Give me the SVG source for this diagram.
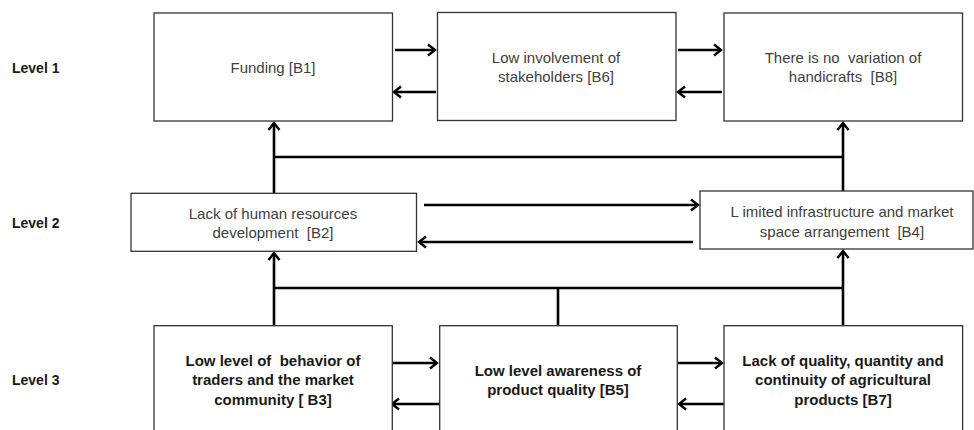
<svg xmlns="http://www.w3.org/2000/svg" width="974" height="430" viewBox="0 0 974 430">
<style>
.box{fill:#fff;stroke:#333;stroke-width:1.3}
.t{font-family:"Liberation Sans",Arial,sans-serif;font-size:15px;fill:#404040;text-anchor:middle}
.tb{font-family:"Liberation Sans",Arial,sans-serif;font-size:15px;font-weight:bold;fill:#1a1a1a;text-anchor:middle}
.lv{font-family:"Liberation Sans",Arial,sans-serif;font-size:14px;font-weight:bold;fill:#1a1a1a}
.c{fill:none;stroke:#000;stroke-width:2.6}
</style>
<defs>
<marker id="ah" markerUnits="userSpaceOnUse" markerWidth="14" markerHeight="14" refX="9" refY="7" orient="auto" viewBox="0 0 14 14">
<path d="M2,1.5 L9,7 L2,12.5" fill="none" stroke="#000" stroke-width="2.4"/>
</marker>
</defs>
<rect width="974" height="430" fill="#fff"/>
<g id="levels">
<text class="lv" x="12" y="73">Level 1</text>
<text class="lv" x="12" y="228">Level 2</text>
<text class="lv" x="12" y="385">Level 3</text>
</g>
<g id="connectors">
<line class="c" x1="395" y1="50" x2="435" y2="50" marker-end="url(#ah)"/>
<line class="c" x1="436" y1="92" x2="394" y2="92" marker-end="url(#ah)"/>
<line class="c" x1="678" y1="50" x2="721" y2="50" marker-end="url(#ah)"/>
<line class="c" x1="722" y1="92" x2="678" y2="92" marker-end="url(#ah)"/>
<path class="c" d="M274,193 V123" marker-end="url(#ah)"/>
<path class="c" d="M274,157 H843"/>
<path class="c" d="M843,191 V123" marker-end="url(#ah)"/>
<line class="c" x1="424" y1="205" x2="698" y2="205" marker-end="url(#ah)"/>
<line class="c" x1="693" y1="242" x2="419" y2="242" marker-end="url(#ah)"/>
<path class="c" d="M274,326 V253" marker-end="url(#ah)"/>
<path class="c" d="M274,288 H843"/>
<path class="c" d="M558,326 V288"/>
<path class="c" d="M843,326 V251" marker-end="url(#ah)"/>
<line class="c" x1="390" y1="363" x2="437" y2="363" marker-end="url(#ah)"/>
<line class="c" x1="439" y1="404" x2="392" y2="404" marker-end="url(#ah)"/>
<line class="c" x1="678" y1="363" x2="722" y2="363" marker-end="url(#ah)"/>
<line class="c" x1="724" y1="404" x2="679" y2="404" marker-end="url(#ah)"/>
</g>
<g id="B1">
<rect class="box" x="154" y="13" width="238.5" height="108"/>
<text class="t" x="273" y="73">Funding [B1]</text>
</g>
<g id="B6">
<rect class="box" x="437.5" y="12.5" width="238.5" height="108"/>
<text class="t" x="556" y="63">Low involvement of</text>
<text class="t" x="556" y="82">stakeholders [B6]</text>
</g>
<g id="B8">
<rect class="box" x="724" y="13" width="238.5" height="108"/>
<text class="t" x="843" y="63" xml:space="preserve">There is no  variation of</text>
<text class="t" x="843" y="82" xml:space="preserve">handicrafts  [B8]</text>
</g>
<g id="B2">
<rect class="box" x="131" y="193.3" width="285.5" height="58"/>
<text class="t" x="273" y="218.5">Lack of human resources</text>
<text class="t" x="273" y="238" xml:space="preserve">development  [B2]</text>
</g>
<g id="B4">
<rect class="box" x="700" y="191" width="273" height="58"/>
<text class="t" x="842" y="217">L imited infrastructure and market</text>
<text class="t" x="842" y="236.5" xml:space="preserve">space arrangement  [B4]</text>
</g>
<g id="B3">
<rect class="box" x="154" y="325.7" width="238.3" height="110"/>
<text class="tb" x="273" y="366" xml:space="preserve">Low level of  behavior of</text>
<text class="tb" x="273" y="385.3">traders and the market</text>
<text class="tb" x="273" y="404.5">community [ B3]</text>
</g>
<g id="B5">
<rect class="box" x="439.7" y="325.7" width="237.6" height="110"/>
<text class="tb" x="558" y="375.5">Low level awareness of</text>
<text class="tb" x="558" y="394.7">product quality [B5]</text>
</g>
<g id="B7">
<rect class="box" x="724" y="325.7" width="238.6" height="110"/>
<text class="tb" x="843" y="366">Lack of quality, quantity and</text>
<text class="tb" x="843" y="385.3">continuity of agricultural</text>
<text class="tb" x="843" y="404.5">products [B7]</text>
</g>
</svg>
